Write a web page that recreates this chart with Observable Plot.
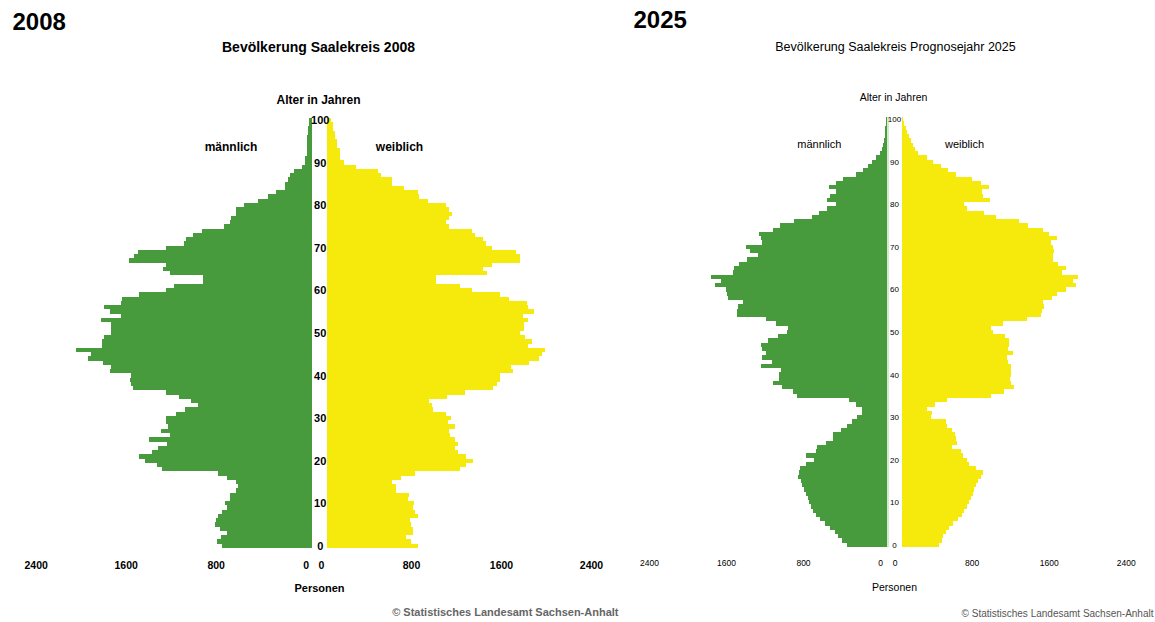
<!DOCTYPE html>
<html><head><meta charset="utf-8">
<script src="https://cdn.jsdelivr.net/npm/d3@7"></script>
<script src="https://cdn.jsdelivr.net/npm/@observablehq/plot@0.6"></script>
<style>
body{margin:0;background:#fff;}
#wrap{position:relative;width:1155px;height:622px;display:flex;overflow:hidden;background:#fff;}
#wrap svg{display:block;flex:none;}
</style></head><body><div id="wrap"></div>
<script>
// ---------- data ----------
const ages = d3.range(0, 101);            // age 0 … 100
const ageTicks = d3.range(0, 101, 10);     // 0,10,…,100
const xTicks = [0, 800, 1600, 2400];       // Personen

const male2008 = [797,841,806,753,815,859,850,833,797,753,770,726,726,673,655,673,753,833,1330,1375,
1481,1535,1419,1366,1286,1446,1259,1339,1277,1295,1295,1206,1126,1010,1073,1179,1295,1588,1606,1615,
1606,1793,1784,1855,1990,1960,2095,1864,1864,1846,1784,1784,1784,1873,1695,1793,1846,1695,1686,1535,
1295,1224,966,966,1259,1321,1295,1624,1579,1544,1295,1135,1117,1055,975,779,726,714,673,673,
601,474,388,317,234,234,210,193,154,86,59,59,44,44,44,41,41,33,33,24,20];
const female2008 = [809,747,702,764,764,747,738,809,782,764,773,720,729,613,613,578,658,782,1182,1236,
1298,1236,1164,1138,1164,1138,1093,1084,1138,1076,1102,1058,942,933,907,1067,1227,1476,1511,1538,
1538,1653,1636,1796,1884,1911,1938,1787,1822,1760,1716,1751,1751,1787,1742,1840,1787,1778,1618,1538,
1289,1182,969,969,1422,1387,1467,1716,1716,1680,1467,1413,1387,1316,1289,1081,1055,1081,1108,1081,
1055,895,818,806,681,575,575,480,450,258,151,113,113,113,92,92,71,71,50,50,33];
const male2025 = [419,471,505,540,592,644,696,737,765,789,806,824,841,858,879,896,920,917,903,844,
758,844,737,730,633,564,564,478,419,367,308,263,263,325,391,931,979,1093,1180,1118,
1118,1104,1311,1190,1301,1256,1301,1311,1232,1128,1042,1024,1152,1256,1561,1561,1543,1491,1657,1664,
1671,1785,1723,1827,1595,1585,1533,1457,1336,1422,1467,1301,1311,1325,1180,1111,965,775,706,619,
529,619,592,533,599,533,453,325,253,201,159,114,73,55,42,31,24,21,17,14,10];
const female2025 = [391,415,433,460,495,536,588,623,651,675,699,720,737,754,772,796,824,841,768,702,
675,633,612,519,571,561,554,519,474,460,308,315,260,346,467,924,1066,1166,1131,1125,
1135,1135,1131,1107,1097,1159,1107,1118,1118,1073,945,927,1055,1298,1443,1453,1478,1471,1564,1609,
1706,1806,1782,1827,1661,1706,1626,1574,1567,1581,1574,1547,1609,1533,1471,1315,1218,976,858,675,
647,917,848,830,910,824,727,561,484,405,329,260,170,142,121,93,73,55,42,28,17];

const GREEN = "#489b3c";
const YELLOW = "#f5ea0b";

function panel(cfg) {
  const {width, c, k, gap, male, female, y0, y1} = cfg;
  const half = 2400 * k;
  const T = cfg.text;
  const top = y0, bottom = y1;
  const txt = (s, o) => Plot.text([s], Object.assign({text: d => d, fill: o.fill || "#000",
    fontSize: o.size, fontWeight: o.weight || "normal", lineAnchor: "middle"}, o.mark));
  const marks = [
    Plot.barX(ages, {y: a => a, x1: () => 0, x2: a => -male[a], dx: -gap, fill: GREEN, shapeRendering: "crispEdges"}),
    Plot.barX(ages, {y: a => a, x1: () => 0, x2: a => female[a], dx: gap, fill: YELLOW, shapeRendering: "crispEdges"})
  ];
  if (cfg.zeroLine) marks.push(Plot.ruleX([0], {dx: -gap + 0.5, stroke: "#a9d3a1", strokeWidth: 1}));
  marks.push(
    Plot.text(ageTicks, {x: () => 0, y: a => a, text: a => String(a), fontSize: T.ageSize, fontWeight: T.weight,
      fill: "#000", dx: T.ageX - c}),
    Plot.text(xTicks, {x: v => -v, text: v => String(v), frameAnchor: "bottom", dy: T.xLabY - bottom,
      dx: -gap + T.labelDx, fontSize: T.xSize, fontWeight: T.weight, fill: "#000"}),
    Plot.text(xTicks, {x: v => v, text: v => String(v), frameAnchor: "bottom", dy: T.xLabY - bottom,
      dx: gap + T.labelDx, fontSize: T.xSize, fontWeight: T.weight, fill: "#000"}),
    txt(cfg.year, {size: 24, weight: "bold", mark: {frameAnchor: "top-left", textAnchor: "start", dx: T.yearX, dy: T.yearY - top}}),
    txt(cfg.title, {size: T.titleSize, weight: T.weight, mark: {x: () => 0, frameAnchor: "top", dx: T.titleX - c, dy: T.titleY - top, letterSpacing: T.ls}}),
    txt("Alter in Jahren", {size: T.alterSize, weight: T.weight, mark: {x: () => 0, frameAnchor: "top", dx: T.alterX - c, dy: T.alterY - top}}),
    txt("männlich", {size: T.sexSize, weight: T.weight, mark: {x: () => 0, frameAnchor: "top", dx: T.mX - c, dy: T.sexY - top}}),
    txt("weiblich", {size: T.sexSize, weight: T.weight, mark: {x: () => 0, frameAnchor: "top", dx: T.wX - c, dy: T.sexY - top}}),
    txt("Personen", {size: T.persSize, weight: T.weight, mark: {x: () => 0, frameAnchor: "bottom", dx: T.persX - c, dy: T.persY - bottom}}),
    txt("© Statistisches Landesamt Sachsen-Anhalt", {size: T.footSize, weight: T.weight, fill: T.footFill,
      mark: {frameAnchor: "bottom-right", textAnchor: "end", dx: -2, dy: T.footY - bottom}})
  );
  return Plot.plot({
    width, height: 622,
    marginTop: top, marginBottom: 622 - bottom, marginLeft: 0, marginRight: 0,
    x: {domain: [-2400, 2400], range: [c - half, c + half], axis: null},
    y: {type: "band", domain: ages.slice().reverse(), range: [top, bottom], padding: 0, round: false, axis: null},
    style: {fontFamily: "'Liberation Sans', Arial, sans-serif", background: "#fff", overflow: "visible"},
    marks
  });
}

const wrap = document.getElementById("wrap");
wrap.append(panel({
  width: 620, c: 319.35, k: 0.1125, gap: 7.65, male: male2008, female: female2008, y0: 117.8, y1: 548,
  year: "2008", title: "Bevölkerung Saalekreis 2008",
  text: {weight: "bold", ageSize: 11, ageX: 319.7, xSize: 10.5, xLabY: 568, labelDx: -6,
    yearX: 12, yearY: 22, titleSize: 14, ls: "0.75px", titleX: 318, titleY: 47,
    alterSize: 12, alterX: 318, alterY: 100, sexSize: 12, sexY: 147, mX: 230.5, wX: 399,
    persSize: 11, persX: 319, persY: 588, footSize: 11, footY: 612, footFill: "#666"}
}));
wrap.append(panel({
  width: 535, c: 274.35, k: 0.09625, gap: 7.35, male: male2025, female: female2025, y0: 117, y1: 547,
  year: "2025", title: "Bevölkerung Saalekreis Prognosejahr 2025", zeroLine: true,
  text: {weight: "normal", ageSize: 8, ageX: 274, xSize: 8.5, xLabY: 565, labelDx: -7,
    yearX: 13, yearY: 20, titleSize: 12.5, ls: "0px", titleX: 275, titleY: 46,
    alterSize: 10.5, alterX: 273, alterY: 97, sexSize: 11, sexY: 144, mX: 198.8, wX: 344,
    persSize: 10.5, persX: 274, persY: 587, footSize: 10, footY: 613, footFill: "#555"}
}));
</script></body></html>
